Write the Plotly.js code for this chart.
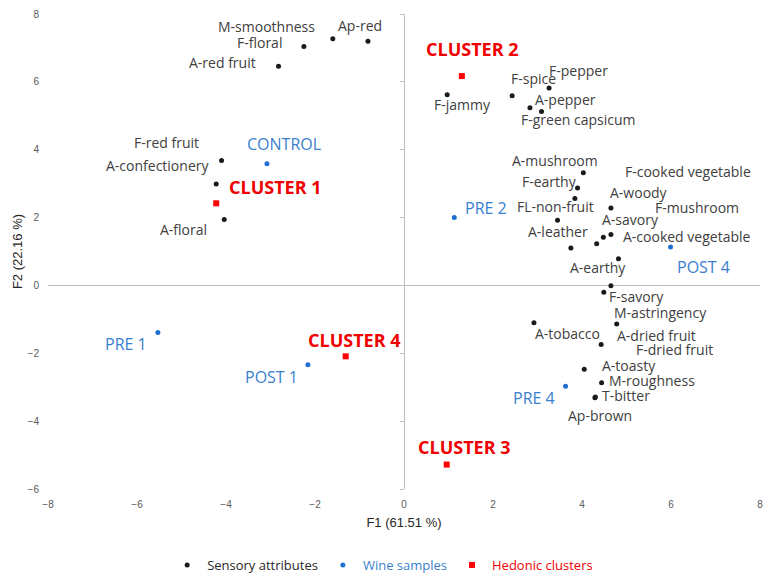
<!DOCTYPE html>
<html>
<head>
<meta charset="utf-8">
<script src="https://cdn.plot.ly/plotly-3.0.1.min.js"></script>
<style>html,body{margin:0;padding:0;background:#fff;}</style>
</head>
<body>
<div id="chart" style="width:782px;height:581px;"></div>
<script>
// ---- Data ----
const attrNames = ["M-smoothness","Ap-red","F-floral","A-red fruit","F-red fruit","A-confectionery","A-floral",
  "F-jammy","F-spice","F-pepper","A-pepper","F-green capsicum",
  "A-mushroom","F-earthy","FL-non-fruit","A-woody","A-leather","A-savory","A-cooked vegetable","F-mushroom",
  "A-earthy","F-cooked vegetable","M-astringency","F-savory","A-tobacco","A-dried fruit","F-dried fruit",
  "A-toasty","M-roughness","T-bitter","Ap-brown"];
const attrF1 = [-1.60,-0.81,-2.25,-2.82,-4.10,-4.22,-4.04,
  0.97,2.43,3.26,2.83,3.09,
  4.03,3.90,3.84,4.65,3.45,4.48,4.65,4.33,
  3.75,4.82,4.65,4.49,2.92,4.78,4.43,
  4.05,4.44,4.30,4.29];
const attrF2 = [7.27,7.20,7.04,6.46,3.68,2.99,1.94,
  5.62,5.59,5.82,5.24,5.13,
  3.32,2.87,2.56,2.28,1.92,1.42,1.50,1.23,
  1.10,0.79,-0.01,-0.20,-1.10,-1.14,-1.74,
  -2.47,-2.87,-3.29,-3.31];

const wineNames = ["CONTROL","PRE 1","POST 1","PRE 2","POST 4","PRE 4"];
const wineF1 = [-3.08,-5.53,-2.16,1.13,5.99,3.63];
const wineF2 = [3.59,-1.39,-2.34,2.00,1.13,-2.97];

const clusterNames = ["CLUSTER 1","CLUSTER 2","CLUSTER 3","CLUSTER 4"];
const clusterF1 = [-4.22,1.30,0.96,-1.31];
const clusterF2 = [2.42,6.17,-5.28,-2.09];

const tickVals = [-8,-6,-4,-2,0,2,4,6,8];

// ---- Label offsets (pixels: dx right, dy down) ----
const attrLabelOff = [[-66.7,-12.3],[-7.5,-15.7],[-44,-4],[-56.3,-3.7],[-55.2,-18.3],[-58.5,-18],[-40.8,9.7],
  [15.7,10],[21.7,-17],[29.5,-17.7],[35.5,-8.3],[36.5,8.5],
  [-28.6,-12.3],[-28.2,-6.7],[-19.4,8.4],[28,-16],[0.8,11.3],[26.7,-17.4],[75.8,2],[100,-36.6],
  [27.3,19.6],[69.6,-87.6],[50,26.7],[32.7,4.3],[33.3,11],[39.6,11.3],[73.5,5.3],
  [44.5,-3.5],[50.3,-2.3],[30.2,-1.6],[5,17.5]];
const wineLabelOff = [[17.5,-20],[-32.4,11],[-36.7,11.7],[31.4,-10],[33,20],[-31.9,11.6]];
const clusterLabelOff = [[59.5,-16.3],[10.3,-27.2],[18,-17.6],[8.3,-16]];

const FONT = "'Open Sans', 'Noto Sans', sans-serif";
const cBlack = "#1a1a1a", cText = "#404040", cBlue = "#1f6fd1", cBlueText = "#3a7fcf", cRed = "#ff0000", cRedText = "#f00000";

const traces = [
  {type:"scatter", mode:"markers", x:attrF1, y:attrF2, name:'<span style="color:#262626">Sensory attributes</span>',
   marker:{color:cBlack, size:5, symbol:"circle"}, hoverinfo:"text", text:attrNames},
  {type:"scatter", mode:"markers", x:wineF1, y:wineF2, name:'<span style="color:'+cBlueText+'">Wine samples</span>',
   marker:{color:cBlue, size:5, symbol:"circle"}, hoverinfo:"text", text:wineNames},
  {type:"scatter", mode:"markers", x:clusterF1, y:clusterF2, name:'<span style="color:'+cRedText+'">Hedonic clusters</span>',
   marker:{color:cRed, size:6, symbol:"square"}, hoverinfo:"text", text:clusterNames},
  {type:"scatter", mode:"markers", x:[0], y:[0], yaxis:"y2", showlegend:false, hoverinfo:"skip",
   marker:{opacity:0, size:1}}
];

const annotations = [];
function addLabels(names, xs, ys, offs, font){
  names.forEach((n,i)=>{
    annotations.push({x:xs[i], y:ys[i], text:n, showarrow:false, xanchor:"center", yanchor:"middle",
      xshift:offs[i][0], yshift:-offs[i][1], font:font});
  });
}
addLabels(attrNames, attrF1, attrF2, attrLabelOff, {family:FONT, size:14, color:cText});
addLabels(wineNames, wineF1, wineF2, wineLabelOff, {family:FONT, size:16, color:cBlueText});
addLabels(clusterNames, clusterF1, clusterF2, clusterLabelOff, {family:FONT, size:18, color:cRedText, weight:"bold"});

const layout = {
  width:782, height:581,
  margin:{l:48, r:22, t:14, b:92, autoexpand:false},
  paper_bgcolor:"#ffffff", plot_bgcolor:"#ffffff",
  font:{family:"Arial, 'Liberation Sans', sans-serif", color:"#404040"},
  showlegend:true,
  legend:{orientation:"h", x:0.47, xanchor:"center", y:-0.16, yanchor:"middle",
    font:{family:FONT, size:13}, itemwidth:30, tracegroupgap:0},
  xaxis:{range:[-8,8], tickvals:tickVals, showgrid:false, zeroline:true, zerolinecolor:"#bfbfbf", zerolinewidth:1,
    showline:false, ticks:"", ticklabelstandoff:8, tickfont:{size:10, color:"#595959"}, automargin:false,
    title:{text:"F1 (61.51 %)", font:{size:13, color:"#262626"}, standoff:8}},
  yaxis:{range:[-6,8], tickvals:tickVals.filter(v=>v>=-6), showgrid:false, zeroline:true, zerolinecolor:"#bfbfbf", zerolinewidth:1,
    showline:false, ticks:"", ticklabelstandoff:8, tickfont:{size:10, color:"#595959"}, automargin:false,
    title:{text:"F2 (22.16 %)", font:{size:13, color:"#262626"}, standoff:2}},
  yaxis2:{range:[-6,8], overlaying:"y", anchor:"free", position:0.5, side:"left", tickvals:tickVals.filter(v=>v>=-6),
    showgrid:false, zeroline:false, showline:false, ticks:"outside", ticklen:4, tickcolor:"#bfbfbf", tickwidth:1,
    showticklabels:false, automargin:false},
  annotations:annotations
};

Plotly.newPlot("chart", traces, layout, {displayModeBar:false, staticPlot:true});
</script>
</body>
</html>
